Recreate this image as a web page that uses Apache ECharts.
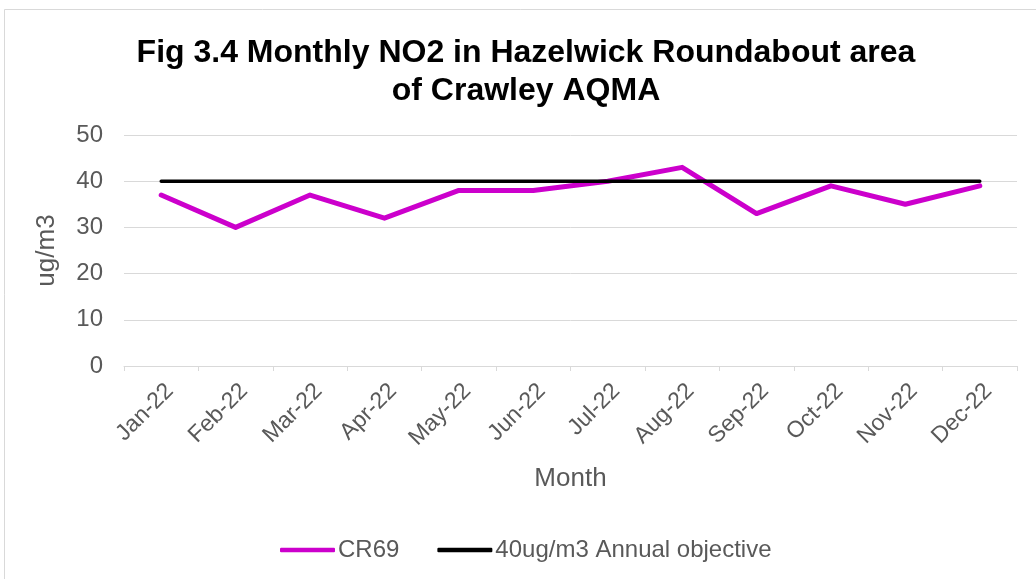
<!DOCTYPE html>
<html>
<head>
<meta charset="utf-8">
<script src="https://cdn.jsdelivr.net/npm/echarts@6/dist/echarts.min.js"></script>
<style>
html,body{margin:0;padding:0;background:#fff;}
#c{width:1036px;height:579px;}
</style>
</head>
<body>
<div id="c"></div>
<script>
const months = ['Jan-22','Feb-22','Mar-22','Apr-22','May-22','Jun-22','Jul-22','Aug-22','Sep-22','Oct-22','Nov-22','Dec-22'];
const cr69 = [37, 30, 37, 32, 38, 38, 40, 43, 33, 39, 35, 39];
const objective = [40, 40, 40, 40, 40, 40, 40, 40, 40, 40, 40, 40];
const yTicks = [0, 10, 20, 30, 40, 50];

const FONT = '"Liberation Sans", Arial, sans-serif';
const chart = echarts.init(document.getElementById('c'), null, {renderer: 'canvas'});
chart.setOption({
  backgroundColor: '#fff',
  animation: false,
  textStyle: {fontFamily: FONT},
  graphic: [{
    type: 'rect',
    shape: {x: 4.5, y: 9.5, width: 1100, height: 700},
    style: {fill: 'none', stroke: '#d9d9d9', lineWidth: 1},
    silent: true, z: -10
  }],
  title: {
    text: 'Fig 3.4 Monthly NO2 in Hazelwick Roundabout area\nof Crawley AQMA',
    left: 521,
    top: 29,
    textAlign: 'center',
    textStyle: {fontFamily: FONT, fontSize: 32, fontWeight: 'bold', color: '#000', lineHeight: 38}
  },
  legend: {
    data: [
      {name: 'CR69', icon: 'roundRect', itemStyle: {color: '#cc00cc'}},
      {name: '40ug/m3 Annual objective', icon: 'roundRect', itemStyle: {color: '#000'}}
    ],
    left: 275,
    top: 533,
    itemWidth: 55,
    itemHeight: 4.5,
    itemGap: 38,
    textStyle: {fontFamily: FONT, fontSize: 24, color: '#595959', padding: [0, 0, 0, -2]}
  },
  grid: {left: 124, right: 19, top: 135, bottom: 213},
  xAxis: {
    type: 'category',
    data: months,
    boundaryGap: true,
    name: 'Month',
    nameLocation: 'middle',
    nameGap: 100,
    nameTextStyle: {fontFamily: FONT, fontSize: 26, color: '#595959'},
    axisLine: {show: true, lineStyle: {color: '#d9d9d9', width: 1}},
    axisTick: {show: true, alignWithLabel: false, length: 5, lineStyle: {color: '#d9d9d9'}},
    axisLabel: {rotate: 45, fontFamily: FONT, fontSize: 23, color: '#595959', margin: 30, interval: 0, padding: [0, -12, 0, 0]},
    splitLine: {show: false}
  },
  yAxis: {
    type: 'value',
    min: yTicks[0],
    max: yTicks[yTicks.length - 1],
    interval: 10,
    name: 'ug/m3',
    nameLocation: 'middle',
    nameGap: 64,
    nameTextStyle: {fontFamily: FONT, fontSize: 26, color: '#595959'},
    axisLine: {show: false},
    axisTick: {show: false},
    axisLabel: {fontFamily: FONT, fontSize: 24, color: '#595959', margin: 21},
    splitLine: {show: true, lineStyle: {color: '#d9d9d9', width: 1}}
  },
  series: [
    {
      name: 'CR69',
      type: 'line',
      data: cr69,
      symbol: 'none',
      lineStyle: {color: '#cc00cc', width: 5, cap: 'round', join: 'round'},
      itemStyle: {color: '#cc00cc'},
      z: 2
    },
    {
      name: '40ug/m3 Annual objective',
      type: 'line',
      data: objective,
      symbol: 'none',
      lineStyle: {color: '#000', width: 3.5, cap: 'round'},
      itemStyle: {color: '#000'},
      z: 3
    }
  ]
});
</script>
</body>
</html>
